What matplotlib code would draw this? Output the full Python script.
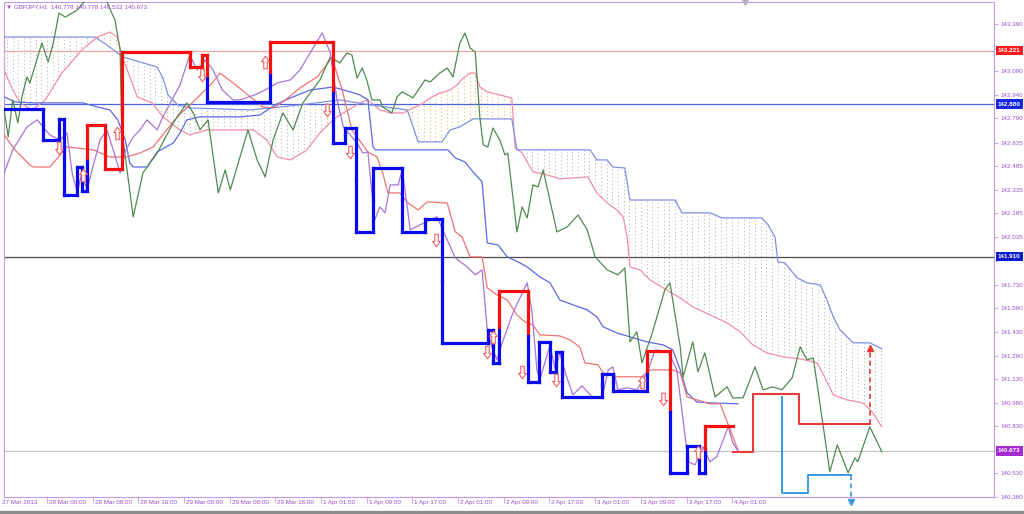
import matplotlib
matplotlib.use("Agg")
import matplotlib.pyplot as plt
import numpy as np
from matplotlib import font_manager
from matplotlib.path import Path
from matplotlib.patches import Rectangle

# ---- data: x = H1 bar index, y = price ----
close_x = [0.5, 2.0, 4.5, 6.3, 7.3, 8.5, 10.3, 11.5, 12.4, 13.3, 14.1, 15.0, 15.9, 17.3, 18.5, 19.6,
           20.8, 21.8, 23.1, 24.3, 25.5, 27.3, 28.3, 29.9, 31.3, 33.0, 34.3, 35.7, 37.1, 38.7, 40.6,
           41.8, 44.4, 46.2, 48.3, 50.6, 52.3, 54.4, 56.2, 57.6, 58.8, 59.9, 62.3, 63.3, 64.2, 64.9,
           65.4, 66.3, 67.2, 68.1, 69.5, 70.2, 71.1, 71.6, 75.1, 76.3, 78.1, 79.5, 81.6, 83.0, 84.2,
           85.1, 85.8, 86.8, 87.3, 89.6, 92.1, 92.9, 93.8, 94.3, 96.1, 97.0, 97.8, 98.9, 100.1, 101.7,
           103.5, 105.2, 106.3, 107.1, 108.0, 109.6, 111.3, 113.1, 114.5, 116.8, 118.3, 119.4, 120.3,
           121.5, 122.9, 124.1, 125.3, 127.3, 128.1, 129.0]
close_y = [142.442, 142.589, 142.735, 142.780, 142.735, 142.684, 142.652, 142.697, 142.442, 142.315,
           142.442, 142.334, 142.461, 142.652, 142.716, 142.589, 142.442, 142.589, 142.671, 142.716,
           142.780, 142.716, 142.799, 142.907, 143.002, 143.193, 143.097, 143.161, 143.097, 142.970,
           142.907, 142.907, 142.939, 142.970, 143.015, 143.034, 143.097, 143.225, 143.333, 143.206,
           142.907, 142.735, 142.633, 142.569, 142.576, 142.315, 142.144, 142.226, 142.188, 142.366,
           142.366, 142.461, 142.226, 142.080, 142.144, 142.163, 142.016, 141.902, 141.844, 141.794,
           141.825, 141.443, 141.348, 141.253, 141.316, 141.552, 141.743, 141.571, 141.189, 141.125,
           141.348, 141.189, 141.297, 141.157, 141.030, 141.087, 141.017, 141.011, 141.189, 141.208,
           141.062, 141.075, 141.062, 141.170, 141.316, 141.304, 141.189, 140.871, 140.604, 140.585,
           140.700, 140.604, 140.636, 140.827, 140.725, 140.673]

chikou_x = [0.5, 1.2, 2.0, 2.9, 3.6, 4.5, 5.0, 7.1, 8.2, 9.1, 10.1, 11.2, 13.3, 15.5, 17.3, 18.5,
            19.9, 20.8, 21.1, 23.1, 24.8, 27.3, 30.1, 32.5, 33.6, 34.8, 36.2, 38.0, 39.2, 40.1, 41.8,
            43.2, 44.8, 46.2, 47.6, 49.3, 51.1, 52.8, 55.8, 57.6, 59.3, 60.5, 61.4, 62.3, 63.2, 64.0,
            64.9, 66.3, 66.8, 68.4, 69.3, 70.2, 72.1, 74.2, 75.1, 76.8, 78.1, 79.1, 80.3, 81.2, 82.1,
            83.0, 83.8, 84.4, 85.2, 86.1, 87.3, 88.2, 88.7, 90.3, 91.2, 92.1, 93.1, 94.0, 94.9, 97.3,
            99.1, 101.0, 102.6, 104.0, 106.1, 108.0, 109.2, 110.1, 111.3, 112.2, 114.0, 116.2, 117.1,
            118.9, 119.4, 121.1, 122.0, 123.2, 125.0, 127.1, 128.1, 129.9, 132.0, 133.4, 135.1, 136.7,
            138.5, 139.9, 141.1, 142.2, 145.1, 146.4, 148.3, 149.5, 150.0, 152.1, 154.2]
chikou_y = [142.843, 142.671, 142.907, 142.760, 142.926, 143.053, 143.015, 143.269, 143.148, 143.269,
            143.460, 143.434, 143.479, 143.574, 143.562, 143.530, 143.415, 143.225, 142.716, 142.162,
            142.442, 142.569, 142.760, 142.888, 142.824, 142.716, 142.780, 142.315, 142.461, 142.334,
            142.544, 142.716, 142.525, 142.417, 142.652, 142.824, 142.716, 142.888, 143.034, 143.180,
            143.142, 143.205, 143.193, 143.046, 143.110, 143.034, 142.907, 142.907, 142.862, 142.824,
            142.926, 142.958, 142.920, 143.034, 143.021, 143.078, 143.110, 143.053, 143.269, 143.333,
            143.237, 143.212, 142.798, 142.620, 142.608, 142.728, 142.652, 142.557, 142.569, 142.067,
            142.226, 142.156, 142.366, 142.353, 142.461, 142.067, 142.099, 142.175, 142.080, 141.908,
            141.825, 141.794, 141.838, 141.367, 141.431, 141.234, 141.424, 141.698, 141.743, 141.335,
            141.144, 141.367, 141.176, 141.297, 141.017, 141.081, 141.011, 141.011, 141.208, 141.062,
            141.081, 141.062, 141.138, 141.335, 141.253, 141.265, 140.540, 140.712, 140.534, 140.629,
            140.604, 140.827, 140.668]

tenkan_x = [0.5, 2.4, 5.0, 5.6, 8.5, 11.5, 16.1, 19.0, 22.0, 24.3, 26.6, 30.8, 33.6, 37.1, 38.3, 40.6,
            45.8, 47.6, 49.3, 52.3, 55.3, 57.9, 59.7, 61.4, 64.2, 65.8, 66.8, 67.7, 69.8, 71.2, 73.0,
            74.6, 78.1, 79.5, 80.7, 82.1, 84.2, 85.1, 86.8, 88.6, 90.3, 91.7, 93.1, 94.3, 97.8, 99.6,
            101.3, 102.2, 104.5, 105.4, 107.5, 112.2, 113.6, 117.6, 118.9, 120.1, 124.1, 125.9, 129.0]
tenkan_y = [142.684, 142.589, 142.493, 142.480, 142.480, 142.608, 142.589, 142.544, 142.544, 142.569,
            142.608, 142.799, 142.894, 143.021, 143.078, 143.015, 142.862, 142.856, 142.894, 142.983,
            143.053, 143.174, 142.970, 142.716, 142.576, 142.544, 142.442, 142.315, 142.315, 142.251,
            142.207, 142.258, 142.251, 142.067, 142.035, 141.908, 141.908, 141.711, 141.666, 141.634,
            141.539, 141.494, 141.475, 141.412, 141.405, 141.380, 141.335, 141.234, 141.221, 141.170,
            141.145, 141.145, 141.189, 141.189, 141.170, 141.017, 140.973, 140.973, 140.680]

kijun_x = [0.5, 2.4, 5.6, 14.3, 16.8, 19.0, 20.4, 21.7, 22.5, 23.1, 25.5, 27.3, 30.1, 31.3, 32.5, 34.8,
           41.8, 45.3, 47.9, 50.6, 54.1, 58.1, 61.1, 62.8, 64.2, 65.1, 65.5, 78.2, 79.5, 81.2, 82.6,
           84.2, 85.1, 87.0, 88.6, 90.5, 92.1, 94.3, 96.1, 97.8, 100.1, 102.6, 104.3, 105.4, 107.8,
           110.1, 113.1, 115.9, 117.6, 118.9, 120.1, 121.8, 124.1, 129.0]
kijun_y = [142.926, 142.894, 142.888, 142.888, 142.862, 142.843, 142.780, 142.652, 142.506, 142.480,
           142.480, 142.576, 142.633, 142.697, 142.780, 142.799, 142.799, 142.811, 142.875, 142.919,
           142.970, 142.989, 142.958, 142.939, 142.907, 142.608, 142.589, 142.589, 142.538, 142.512,
           142.449, 142.385, 141.997, 141.984, 141.908, 141.876, 141.844, 141.781, 141.743, 141.634,
           141.603, 141.571, 141.526, 141.463, 141.424, 141.399, 141.367, 141.348, 141.316, 141.189,
           141.043, 140.985, 140.979, 140.973]

span_a_x = [0.5, 2.0, 3.3, 5.4, 7.7, 10.6, 14.1, 16.8, 19.0, 20.3, 21.1, 22.5, 23.8, 26.4, 28.3, 31.3,
            33.0, 36.0, 44.1, 46.5, 48.3, 50.6, 53.5, 55.8, 58.1, 59.3, 62.8, 64.2, 66.3, 68.1, 70.4,
            72.1, 73.3, 75.1, 76.8, 78.6, 79.8, 80.9, 82.1, 83.0, 83.8, 85.1, 87.3, 89.4, 90.0, 91.2,
            93.1, 95.6, 97.8, 102.7, 104.3, 106.1, 107.8, 108.9, 109.6, 110.1, 111.9, 113.6, 115.9,
            118.9, 121.1, 124.1, 127.1, 129.4, 131.6, 134.1, 136.9, 139.9, 142.9, 144.6, 145.7, 148.1,
            150.9, 152.5, 154.2]
span_a_y = [143.097, 142.970, 142.888, 142.843, 142.907, 143.078, 143.225, 143.307, 143.339, 143.307,
            143.193, 143.053, 142.926, 142.888, 142.799, 142.716, 142.684, 142.716, 142.716, 142.652,
            142.544, 142.525, 142.589, 142.697, 142.780, 142.811, 142.888, 142.907, 142.843, 142.824,
            142.824, 142.856, 142.875, 142.919, 142.951, 142.970, 143.002, 143.046, 143.078, 143.078,
            142.989, 142.958, 142.939, 142.919, 142.601, 142.569, 142.449, 142.430, 142.404, 142.417,
            142.315, 142.251, 142.207, 142.162, 142.035, 141.844, 141.825, 141.761, 141.711, 141.647,
            141.590, 141.539, 141.488, 141.431, 141.348, 141.297, 141.272, 141.259, 141.234, 141.113,
            141.030, 140.998, 140.979, 140.922, 140.827]

span_b_x = [0.5, 16.4, 18.5, 21.3, 27.3, 28.3, 29.2, 30.9, 33.0, 43.6, 52.3, 59.3, 64.6, 68.6, 71.1,
            73.0, 77.2, 78.6, 80.3, 82.6, 89.4, 90.3, 103.1, 104.3, 106.1, 107.1, 109.2, 110.1, 118.0,
            119.2, 124.1, 126.2, 133.2, 134.3, 135.5, 136.0, 137.2, 139.4, 141.1, 143.4, 144.6, 145.7,
            146.9, 149.2, 152.1, 154.2]
span_b_y = [143.307, 143.307, 143.256, 143.180, 143.116, 143.046, 142.939, 142.875, 142.856, 142.843,
            142.875, 142.907, 142.875, 142.856, 142.843, 142.640, 142.640, 142.716, 142.735, 142.786,
            142.786, 142.589, 142.589, 142.525, 142.525, 142.480, 142.474, 142.270, 142.270, 142.188,
            142.188, 142.156, 142.156, 142.111, 142.035, 141.876, 141.870, 141.774, 141.743, 141.730,
            141.634, 141.526, 141.443, 141.361, 141.361, 141.323]

# thick stop line: segment edges (bars), level per segment, colour per segment
stop_edges = [0.5, 7.3, 10.1, 11.0, 13.3, 14.1, 15.0, 18.2, 21.1, 33.0, 35.1, 36.0, 47.1, 58.1, 60.2,
              62.1, 65.1, 70.2, 74.2, 77.2, 85.2, 86.1, 87.2, 92.2, 94.2, 96.1, 97.1, 98.2, 105.2,
              107.1, 113.1, 117.1, 120.1, 122.2, 123.2, 128.1]
stop_levels = [142.849, 142.652, 142.786, 142.302, 142.480, 142.328, 142.747, 142.468, 143.212,
               143.116, 143.193, 142.894, 143.275, 142.633, 142.728, 142.067, 142.474, 142.067,
               142.150, 141.361, 141.443, 141.233, 141.692, 141.113, 141.367, 141.176, 141.303,
               141.017, 141.164, 141.055, 141.310, 140.534, 140.706, 140.534, 140.833]
stop_side = "BBBBBBRRRRRBRBBBBBBBBBRBBBBBBBRBBBR"

arrow_up_x = [14.3, 20.3, 46.2, 86.1, 112.2, 122.0]
arrow_up_y = [142.430, 142.697, 143.148, 141.399, 141.113, 140.668]
arrow_dn_x = [10.1, 35.1, 57.0, 61.1, 76.1, 85.1, 91.2, 97.1, 115.9]
arrow_dn_y = [142.601, 143.066, 142.843, 142.576, 142.016, 141.304, 141.176, 141.125, 141.005]

proj_red_x = [128.1, 131.6, 131.6, 139.7, 139.7, 152.1]
proj_red_y = [140.668, 140.668, 141.036, 141.036, 140.846, 140.846]
proj_blue_x = [136.7, 136.7, 141.3, 141.3, 148.8]
proj_blue_y = [141.017, 140.405, 140.405, 140.521, 140.521]
target_up_x, target_up_from, target_up_to = 152.1, 140.846, 141.33
target_dn_x, target_dn_from, target_dn_to = 148.8, 140.521, 140.35

level_prices = [143.221, 142.880, 141.910, 140.673]
level_line_colors = ['#f4a6a6', '#4a62dc', '#4a4a4a', '#c4c4c4']
level_box_colors = ['#ff1c1c', '#1428e0', '#0a1ccc', '#a42ad2']

# price-scale ticks (the three hidden under level boxes are left unlabelled)
ytick_vals = [143.390, 143.240, 143.090, 142.940, 142.790, 142.635, 142.485, 142.335, 142.185,
              142.035, 141.880, 141.730, 141.580, 141.430, 141.280, 141.130, 140.980, 140.830,
              140.680, 140.530, 140.380]
ytick_hidden = [143.240, 141.880, 140.680]
xtick_bars = [0, 8, 16, 24, 32, 40, 48, 56, 64, 72, 80, 88, 96, 104, 112, 120, 128]
xtick_labels = ['27 Mar 2013', '28 Mar 00:00', '28 Mar 08:00', '28 Mar 16:00', '29 Mar 00:00',
                '29 Mar 08:00', '29 Mar 16:00', '1 Apr 01:00', '1 Apr 09:00', '1 Apr 17:00',
                '2 Apr 01:00', '2 Apr 09:00', '2 Apr 17:00', '3 Apr 01:00', '3 Apr 09:00',
                '3 Apr 17:00', '4 Apr 01:00']
title = "\u25bc GBPJPY,H1  140.778 140.778 140.532 140.673"

# ---- fonts ----
names = {f.name for f in font_manager.fontManager.ttflist}
if 'Liberation Sans Narrow' in names:
    small_font, fs = 'Liberation Sans Narrow', 5.0
else:
    small_font, fs = 'Liberation Sans', 4.5
plt.rcParams['font.family'] = [small_font, 'DejaVu Sans']

axis_col = '#c49ae8'
text_col = '#9a4ad0'

fig = plt.figure(figsize=(10.24, 5.14), dpi=100)
ax = fig.add_axes([4 / 1024, 17 / 514, 990 / 1024, 495 / 514])
ax.set_xlim(0.47, 173.85)
ax.set_ylim(140.381, 143.530)

# cloud: dotted histogram between the spans
cb = np.arange(1, 155)
a = np.interp(cb, span_a_x, span_a_y)
b = np.interp(cb, span_b_x, span_b_y)
bear = b >= a
ax.vlines(cb[bear], a[bear], b[bear], colors='#acacac', linestyles=(0, (1, 2.8)), lw=0.7, zorder=1)
ax.vlines(cb[~bear], a[~bear], b[~bear], colors='#f2b048', linestyles=(0, (1, 2.8)), lw=0.7, zorder=1)

# horizontal levels
for p, lc in zip(level_prices, level_line_colors):
    ax.axhline(p, color=lc, lw=0.9, zorder=2)

# ichimoku + price lines
ax.plot(span_a_x, span_a_y, color='#f48ea6', lw=0.9, zorder=3)
ax.plot(span_b_x, span_b_y, color='#7f8fe6', lw=0.9, zorder=3)
ax.plot(kijun_x, kijun_y, color='#5a6ae2', lw=0.9, zorder=3)
ax.plot(tenkan_x, tenkan_y, color='#f07272', lw=0.9, zorder=3)
ax.plot(chikou_x, chikou_y, color='#4f8a4f', lw=0.9, zorder=4)
ax.plot(close_x, close_y, color='#a874d6', lw=0.9, zorder=4)

# thick stop line
cmap = {'B': '#0a0af0', 'R': '#f41010'}
for i, lev in enumerate(stop_levels):
    c = cmap[stop_side[i]]
    ax.plot([stop_edges[i], stop_edges[i + 1]], [lev, lev], color=c, lw=2.3,
            solid_capstyle='projecting', zorder=5)
    if i > 0:
        prev = stop_levels[i - 1]
        mid = (prev + lev) / 2
        ax.plot([stop_edges[i]] * 2, [prev, mid], color=cmap[stop_side[i - 1]], lw=2.3, zorder=5)
        ax.plot([stop_edges[i]] * 2, [mid, lev], color=c, lw=2.3, zorder=5)

# projections
ax.plot(proj_red_x, proj_red_y, color='#e63a3a', lw=1.5, zorder=5)
ax.plot(proj_blue_x, proj_blue_y, color='#3a9ae6', lw=1.4, zorder=5)
ax.plot([target_up_x] * 2, [target_up_from, target_up_to], color='#e63a3a', lw=1.2,
        ls=(0, (3, 2)), zorder=5)
ax.plot([target_up_x], [target_up_to], marker='^', ms=4, color='#e63a3a', zorder=5)
ax.plot([target_dn_x] * 2, [target_dn_from, target_dn_to], color='#3a9ae6', lw=1.2,
        ls=(0, (3, 2)), zorder=5, clip_on=False)
ax.plot([target_dn_x], [target_dn_to], marker='v', ms=4, color='#3a9ae6', zorder=5, clip_on=False)

# hollow signal arrows
up_arrow = Path([(0, 1), (-0.62, 0.15), (-0.28, 0.15), (-0.28, -1), (0.28, -1), (0.28, 0.15),
                 (0.62, 0.15), (0, 1)],
                [Path.MOVETO] + [Path.LINETO] * 6 + [Path.CLOSEPOLY])
dn_arrow = Path(up_arrow.vertices * [1, -1], up_arrow.codes)
ax.plot(arrow_up_x, arrow_up_y, ls='none', marker=up_arrow, ms=9, mfc='white', mec='#f06060',
        mew=0.8, zorder=6)
ax.plot(arrow_dn_x, arrow_dn_y, ls='none', marker=dn_arrow, ms=9, mfc='white', mec='#f06060',
        mew=0.8, zorder=6)

# axes styling
for s in ax.spines.values():
    s.set_color(axis_col)
    s.set_linewidth(0.8)
ax.yaxis.tick_right()
ax.set_yticks(ytick_vals)
ax.set_yticklabels(["" if v in ytick_hidden else f"{v:.3f}" for v in ytick_vals])
ax.tick_params(axis='y', length=3, width=0.6, color=axis_col, labelcolor=text_col,
               labelsize=fs, pad=2)
ax.set_xticks(xtick_bars[1:])
ax.set_xticklabels([])
ax.tick_params(axis='x', length=4, width=0.6, color=axis_col)
for bx, lab in zip(xtick_bars, xtick_labels):
    ax.annotate(lab, xy=(max(bx, 0.47), 0), xycoords=('data', 'axes fraction'),
                xytext=(2 if bx else -2, -3), textcoords='offset pixels', ha='left', va='top',
                fontsize=fs, color=text_col, annotation_clip=False)

# level labels on the price scale
for p, bc in zip(level_prices, level_box_colors):
    ax.annotate(f"{p:.3f}", xy=(1, p), xycoords=('axes fraction', 'data'), xytext=(4, 0),
                textcoords='offset pixels', ha='left', va='center', fontsize=fs, color='white',
                fontweight='bold', annotation_clip=False,
                bbox=dict(boxstyle='square,pad=0.35', fc=bc, ec='none'), zorder=10)

fig.text(6 / 1024, 1 - 7 / 514, title, fontsize=fs, color=text_col, va='center', ha='left')
ax.plot([130.2], [143.53], marker='v', ms=4, color='#b4b4c8', clip_on=False, zorder=7)
fig.add_artist(Rectangle((0, 0), 1, 3 / 514, transform=fig.transFigure, color='#8c8c8c'))

fig.savefig('out.png', dpi=100)
